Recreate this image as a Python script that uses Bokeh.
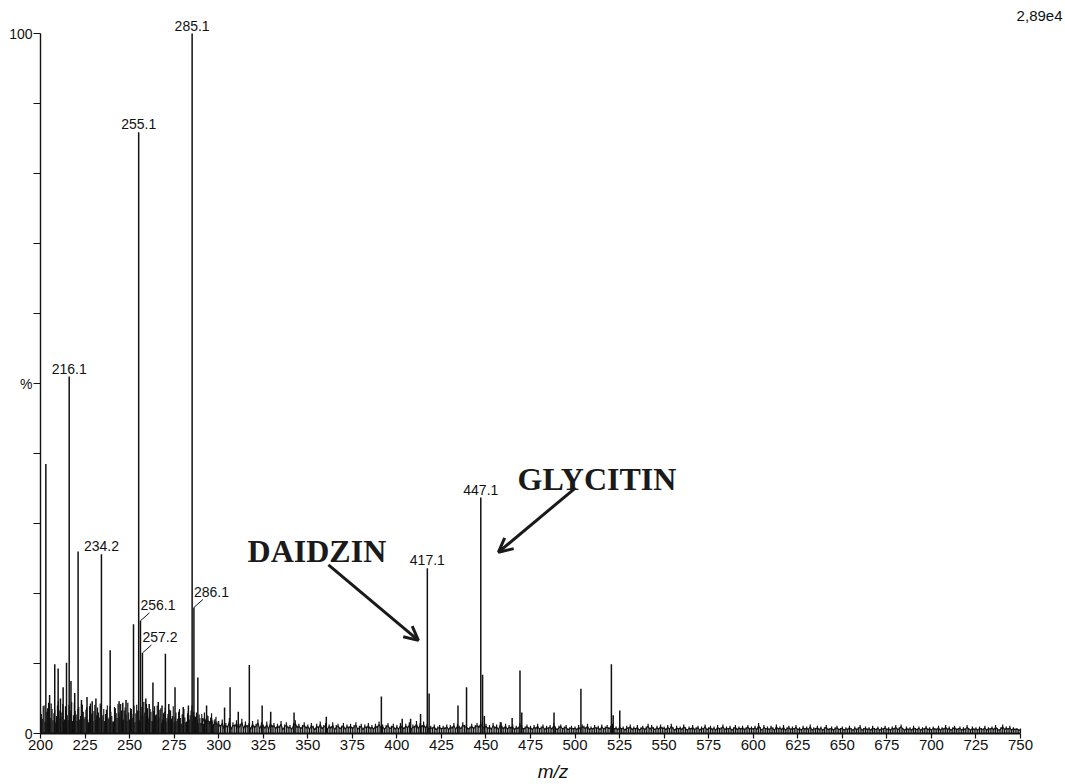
import numpy as np
from bokeh.plotting import figure
from bokeh.models import Range1d, FixedTicker, Arrow, OpenHead
from bokeh.core.properties import value
from bokeh.embed import file_html
from bokeh.resources import INLINE

# ---- spectrum data (m/z, relative intensity %) ----
peak_mz = [203.0, 205.1, 208.0, 209.9, 211.2, 212.7, 214.6, 216.1, 217.1, 219.2,
           221.1, 223.0, 226.1, 229.0, 231.1, 234.2, 239.1, 244.1, 246.2, 248.0,
           252.2, 255.1, 256.1, 257.2, 259.1, 261.0, 263.1, 266.1, 268.2, 270.1,
           272.0, 275.5, 280.1, 283.0, 285.1, 286.1, 288.3,
           293.2, 303.3, 306.4, 311.0, 317.2, 324.4, 329.2, 342.3, 360.4, 391.3,
           403.0, 407.7, 413.3, 417.1, 418.1, 434.3, 439.1, 447.1, 448.1, 449.1,
           458.5, 464.7, 469.1, 470.1, 488.2, 503.3, 520.4, 521.4, 525.1]
peak_int = [38.5, 5.5, 9.9, 9.3, 5.0, 6.6, 10.1, 51.0, 7.5, 5.8,
            26.0, 4.8, 5.2, 4.6, 5.0, 25.6, 11.9, 4.6, 4.4, 4.8,
            15.6, 85.9, 16.1, 11.5, 5.0, 4.2, 7.3, 4.5, 4.0, 11.4,
            4.2, 6.6, 3.8, 4.0, 100.0, 18.0, 8.0,
            4.0, 3.7, 6.6, 3.1, 9.8, 4.0, 3.1, 3.0, 2.4, 5.3,
            2.1, 2.1, 2.8, 23.6, 5.7, 4.0, 6.6, 33.7, 8.4, 2.5,
            1.6, 2.2, 9.0, 3.0, 3.0, 6.4, 9.9, 2.6, 3.3]

# chemical noise, one value per m/z unit starting at 200
noise_200_299 = [3.2, 2.1, 4.0, 1.5, 3.6, 2.8, 4.3, 1.9, 3.4, 2.5, 4.6, 2.2, 3.0, 1.7, 3.9, 2.6, 4.1, 3.3, 1.8, 4.4, 2.7, 3.5, 2.0, 4.2, 3.1,
                 2.4, 3.8, 1.6, 4.3, 2.9, 3.2, 1.9, 3.7, 2.3, 4.0, 2.6, 1.8, 3.4, 2.1, 3.9, 2.5, 1.7, 3.6, 2.2, 3.0, 4.2, 1.9, 3.3, 2.7, 4.4,
                 2.0, 3.5, 2.8, 1.6, 4.1, 2.3, 3.2, 2.6, 4.5, 1.8, 3.6, 2.4, 3.1, 1.7, 3.9, 2.7, 2.0, 3.4, 1.5, 2.9, 3.7, 2.2, 1.9, 3.3, 2.5,
                 1.6, 3.0, 2.1, 3.5, 1.4, 2.8, 2.3, 1.7, 3.2, 2.6, 4.0, 3.1, 2.4, 1.9, 2.7, 1.5, 2.2, 3.0, 1.6, 2.5, 1.8, 2.9, 1.3, 2.1, 1.7]
noise_300_399 = [1.8, 1.2, 2.0, 0.9, 1.5, 1.1, 2.2, 0.8, 1.6, 1.3, 1.9, 1.0, 1.4, 2.1, 0.9, 1.7, 1.2, 1.5, 0.8, 1.8, 1.1, 1.4, 2.0, 0.9, 1.6,
                 1.3, 1.0, 1.7, 0.8, 1.9, 1.2, 1.5, 0.9, 1.4, 1.1, 1.8, 0.7, 1.3, 1.6, 1.0, 1.2, 0.8, 1.5, 1.9, 1.1, 1.4, 0.9, 1.2, 1.6, 1.0,
                 1.3, 0.8, 1.5, 1.1, 0.7, 1.4, 1.0, 1.7, 0.9, 1.2, 1.5, 0.8, 1.3, 1.0, 1.6, 0.7, 1.2, 1.4, 0.9, 1.1, 1.5, 0.8, 1.3, 1.0, 1.4,
                 0.9, 1.2, 1.6, 0.8, 1.1, 1.4, 0.7, 1.3, 1.0, 1.5, 0.9, 1.2, 0.8, 1.4, 1.1, 1.7, 1.0, 1.3, 0.8, 1.2, 1.5, 0.9, 1.1, 1.4, 0.8]
noise_400_499 = [1.2, 0.8, 1.5, 1.1, 0.9, 1.4, 1.0, 1.6, 0.7, 1.3, 1.1, 1.8, 0.9, 1.5, 1.2, 1.7, 1.0, 1.4, 0.8, 1.1, 0.9, 1.3, 0.7, 1.0, 1.2,
                 0.8, 1.1, 0.9, 1.3, 0.7, 1.2, 1.0, 1.5, 0.8, 1.4, 1.1, 0.9, 1.6, 1.2, 1.3, 0.8, 1.0, 1.4, 0.9, 1.2, 1.5, 1.1, 1.8, 1.3, 1.0,
                 1.4, 0.9, 1.2, 0.8, 1.5, 1.0, 1.3, 0.7, 1.6, 1.1, 0.9, 1.4, 0.8, 1.2, 1.0, 1.3, 0.7, 1.1, 0.9, 1.5, 1.2, 0.8, 1.0, 1.3, 0.9,
                 1.1, 0.7, 1.2, 0.9, 1.4, 0.8, 1.0, 1.3, 0.7, 1.1, 0.9, 1.2, 0.8, 1.5, 1.0, 0.7, 1.1, 1.3, 0.8, 1.0, 1.2, 0.7, 0.9, 1.1, 0.8]
noise_500_599 = [1.0, 0.7, 1.2, 0.8, 1.3, 1.1, 0.9, 1.4, 0.7, 1.0, 0.8, 1.2, 0.9, 1.1, 0.7, 1.3, 0.8, 1.0, 1.2, 0.9, 1.1, 1.4, 0.8, 1.0, 0.7,
                 1.2, 0.8, 1.0, 0.6, 1.1, 0.9, 1.3, 0.7, 1.0, 0.8, 1.2, 0.6, 0.9, 1.1, 0.7, 1.0, 1.4, 0.8, 1.2, 0.9, 0.7, 1.1, 0.8, 1.3, 0.9,
                 1.0, 0.7, 1.2, 0.8, 1.4, 0.9, 0.6, 1.1, 0.8, 1.0, 0.7, 1.3, 0.9, 0.6, 1.0, 0.8, 1.2, 0.7, 0.9, 1.1, 0.6, 1.0, 0.8, 1.3, 0.7,
                 0.9, 1.1, 0.7, 1.0, 0.6, 1.2, 0.8, 0.9, 1.3, 0.7, 1.0, 0.8, 1.1, 0.6, 0.9, 1.2, 0.7, 1.0, 0.8, 1.1, 0.7, 0.9, 1.2, 0.8, 1.0]
noise_600_750 = [0.8, 1.1, 0.7, 1.5, 0.9, 0.6, 1.2, 0.8, 1.0, 0.7, 1.1, 0.9, 0.6, 1.3, 0.8, 1.0, 0.7, 1.2, 0.6, 0.9, 1.1, 0.7, 1.0, 0.8, 1.2,
                 0.7, 0.9, 0.6, 1.1, 0.8, 1.0, 0.7, 1.3, 0.6, 0.9, 0.8, 1.1, 0.7, 1.0, 0.6, 0.9, 1.2, 0.7, 0.8, 1.0, 0.6, 0.9, 1.1, 0.7, 0.8,
                 1.0, 0.6, 0.9, 0.7, 1.1, 0.8, 0.6, 1.0, 0.7, 0.9, 1.2, 0.6, 0.8, 1.0, 0.7, 0.9, 0.6, 1.1, 0.8, 0.7, 1.0, 0.6, 0.9, 0.8, 1.1,
                 0.7, 0.9, 0.6, 1.0, 0.8, 1.2, 0.7, 0.9, 1.3, 0.8, 0.6, 1.0, 0.7, 0.9, 0.6, 1.1, 0.8, 0.7, 1.0, 0.6, 0.9, 0.8, 1.1, 0.7, 0.9,
                 0.6, 1.0, 0.8, 0.7, 1.1, 0.6, 0.9, 0.8, 1.2, 0.7, 1.0, 0.6, 0.9, 1.1, 0.7, 0.8, 1.0, 0.6, 0.9, 0.7, 1.2, 0.8, 0.6, 1.0, 0.7,
                 0.9, 0.6, 1.0, 0.8, 0.7, 1.1, 0.6, 0.9, 0.8, 1.0, 0.7, 1.2, 0.8, 0.6, 0.9, 1.3, 0.7, 1.0, 0.8, 1.1, 0.6, 0.9, 0.7, 0.8, 0.6, 0.7]
noise_start = 200
# extra noise between the integer masses in the crowded low-mass region (200.5 ... 299.5)
noise_half_200_299 = [2.8, 3.9, 1.7, 3.1, 4.4, 2.2, 3.5, 2.9, 1.6, 4.0, 3.3, 2.4, 4.2, 2.0, 3.6, 1.9, 3.0, 4.5, 2.6, 3.2, 1.8, 3.8, 2.5, 4.1, 2.1,
                      3.4, 2.0, 3.9, 2.7, 1.8, 4.1, 2.6, 3.0, 4.3, 1.9, 3.5, 2.8, 4.0, 2.3, 3.1, 1.7, 3.8, 2.9, 4.2, 2.4, 3.3, 2.0, 3.7, 1.8, 3.0,
                      3.6, 2.2, 4.0, 2.9, 3.3, 1.9, 3.8, 2.5, 3.0, 4.2, 2.1, 3.5, 1.8, 3.2, 2.6, 4.0, 2.3, 3.6, 2.0, 3.1, 1.7, 2.8, 3.4, 2.1, 3.9,
                      2.4, 1.8, 3.1, 2.2, 2.7, 3.5, 1.6, 2.9, 2.0, 3.3, 1.7, 2.5, 3.0, 1.5, 2.2, 2.8, 1.4, 2.0, 2.6, 1.5, 2.3, 1.3, 1.9, 2.4, 1.2]
noise_half_start = 200.5

# peak annotations
top_labels = ["216.1", "234.2", "255.1", "285.1", "417.1", "447.1"]
top_label_mz = [216.1, 234.2, 255.1, 285.1, 417.1, 447.1]
top_label_int = [51.0, 25.6, 85.9, 100.0, 23.6, 33.7]
side_labels = ["256.1", "257.2", "286.1"]
side_label_mz = [256.1, 257.2, 286.1]
side_label_int = [16.1, 11.5, 18.0]

# compound callouts
callout_text = ["DAIDZIN", "GLYCITIN"]
callout_x = [316.2, 467.7]
callout_y = [26.1, 36.3]
arrow_from_x = [361.6, 500.3]
arrow_from_y = [24.1, 35.1]
arrow_to_x = [412.1, 457.0]
arrow_to_y = [13.3, 25.9]

x_ticks = list(range(200, 751, 25))
y_ticks = list(range(0, 101, 10))
scale_text = "2,89e4"

# ---- layout ----
W, H = 1065, 784
LEFT, BOTTOM = 40, 51
PX_PER_MZ = 980 / 550.0
PX_PER_PCT = 7.0
x_hi = 200 + (W - LEFT) / PX_PER_MZ
y_hi = (H - BOTTOM) / PX_PER_PCT

FONT = value("Liberation Sans")
INK = "#111111"

p = figure(width=W, height=H, output_backend="svg", toolbar_location=None,
           x_range=Range1d(200, x_hi), y_range=Range1d(0, y_hi),
           min_border=0, min_border_left=LEFT, min_border_bottom=BOTTOM,
           min_border_right=0, min_border_top=0)
p.outline_line_color = None
p.grid.visible = False
p.background_fill_color = "white"
p.border_fill_color = "white"

# noise sticks
noise = noise_200_299 + noise_300_399 + noise_400_499 + noise_500_599 + noise_600_750
noise_mz = noise_start + np.arange(len(noise))
p.segment(x0=noise_mz, y0=0, x1=noise_mz, y1=noise, line_color=INK, line_width=1.2)
half_mz = noise_half_start + np.arange(len(noise_half_200_299))
p.segment(x0=half_mz, y0=0, x1=half_mz, y1=noise_half_200_299, line_color=INK, line_width=1.1)
# ragged trace joining the noise tops at higher mass
hi = noise_mz >= 290
p.line(x=noise_mz[hi], y=np.array(noise)[hi] * 0.75, line_color=INK, line_width=1.1)

# peak sticks
p.segment(x0=peak_mz, y0=0, x1=peak_mz, y1=peak_int, line_color=INK, line_width=1.5)

# labels directly above peaks
p.text(x=top_label_mz, y=top_label_int, text=top_labels, text_align="center",
       text_baseline="bottom", y_offset=-3, text_font=FONT, text_font_size="14px",
       text_color=INK)

# labels with short leader lines
lead_dx = 9 / PX_PER_MZ
lead_dy = 8 / PX_PER_PCT
sx = np.array(side_label_mz)
sy = np.array(side_label_int)
p.segment(x0=sx, y0=sy, x1=sx + lead_dx, y1=sy + lead_dy, line_color=INK, line_width=1.0)
p.text(x=sx, y=sy, text=side_labels, text_align="left", text_baseline="bottom",
       x_offset=0, y_offset=-11, text_font=FONT, text_font_size="14px", text_color=INK)

# compound callouts and arrows
p.text(x=callout_x, y=callout_y, text=callout_text, text_align="left",
       text_baseline="alphabetic", text_font=value("Liberation Serif"),
       text_font_style="bold", text_font_size="32px", text_color="#1a1a1a")
for xs, ys, xe, ye in zip(arrow_from_x, arrow_from_y, arrow_to_x, arrow_to_y):
    p.add_layout(Arrow(end=OpenHead(size=14, line_width=3, line_color="#1a1a1a"),
                       x_start=xs, y_start=ys, x_end=xe, y_end=ye,
                       line_width=3, line_color="#1a1a1a"))

# intensity scale of the base peak
p.text(x=[x_hi - 3 / PX_PER_MZ], y=[y_hi - 10 / PX_PER_PCT], text=[scale_text],
       text_align="right", text_baseline="top", text_font=FONT,
       text_font_size="15px", text_color=INK)

# axes
xa = p.xaxis[0]
xa.ticker = FixedTicker(ticks=x_ticks)
xa.bounds = (200, 750)
xa.minor_tick_line_color = None
xa.major_tick_out = 5
xa.major_tick_in = 0
xa.major_label_standoff = 1
xa.major_label_text_font = "Liberation Sans"
xa.major_label_text_font_size = "15px"
xa.major_label_text_color = INK
xa.axis_line_width = 2
xa.axis_line_color = INK
xa.major_tick_line_color = INK
xa.major_tick_line_width = 1.2
xa.axis_label = "m/z"
xa.axis_label_text_font = "Liberation Sans"
xa.axis_label_text_font_style = "italic"
xa.axis_label_text_font_size = "19px"
xa.axis_label_text_color = INK
xa.axis_label_standoff = 8

ya = p.yaxis[0]
ya.ticker = FixedTicker(ticks=y_ticks)
ya.bounds = (0, 100)
ya.minor_tick_line_color = None
ya.major_tick_out = 7
ya.major_tick_in = 0
ya.major_label_standoff = 1
ya.major_label_overrides = {t: ("0" if t == 0 else "%" if t == 50 else "100" if t == 100 else "")
                            for t in y_ticks}
ya.major_label_text_font = "Liberation Sans"
ya.major_label_text_font_size = "14px"
ya.major_label_text_color = INK
ya.axis_line_width = 1.4
ya.axis_line_color = INK
ya.major_tick_line_color = INK

open("out.html", "w").write(file_html(p, INLINE))
